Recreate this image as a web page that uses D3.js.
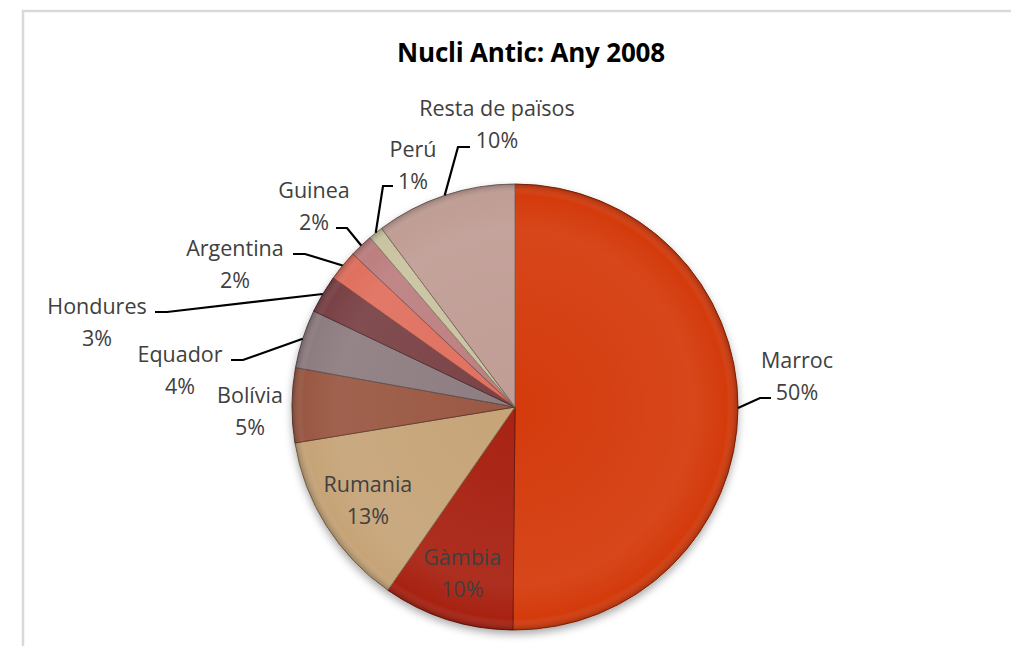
<!DOCTYPE html>
<html>
<head>
<meta charset="utf-8">
<script src="https://cdn.jsdelivr.net/npm/d3@7"></script>
<style>
  html, body { margin: 0; padding: 0; background: #fff; }
  svg { display: block; }
</style>
</head>
<body>
<svg id="chart" width="1011" height="646"></svg>
<script>
// ---- data ----
const title = "Nucli Antic: Any 2008";
const categories = ["Marroc", "Gàmbia", "Rumania", "Bolívia", "Equador", "Hondures", "Argentina", "Guinea", "Perú", "Resta de països"];
const shares = [50.1, 9.5, 12.75, 5.4, 4.25, 2.75, 2.2, 1.7, 1.05, 10.2];
const colors = ["#d43b0c", "#a82212", "#c6a478", "#9a5843", "#8e7d80", "#7a4246", "#e0705f", "#bd7f80", "#c9c3a0", "#c09d95"];

// ---- layout (label placement, not data) ----
const labelLayout = [
  { text: [797, 376], elbow: [760, 398], end: [771, 398] },
  { inside: true },
  { inside: true },
  { text: [250, 411] },
  { text: [180, 370], elbow: [243, 360], end: [231, 360] },
  { text: [97, 322], elbow: [167, 312], end: [155, 312] },
  { text: [235, 264], elbow: [305, 254], end: [293, 254] },
  { text: [314, 206], elbow: [347, 228], end: [336, 228] },
  { text: [413, 165], elbow: [383, 186], end: [393, 186] },
  { text: [497, 124], elbow: [458, 147], end: [470, 147] }
];

const svg = d3.select("#chart");
const cx = 515, cy = 407, R = 223;

// frame (extends beyond the picture on right and bottom)
svg.append("rect").attr("x", 23).attr("y", 11).attr("width", 1100).attr("height", 700)
  .attr("fill", "#fff").attr("stroke", "#d9d9d9").attr("stroke-width", 2.5);

// title
svg.append("text").attr("x", 531).attr("y", 62).attr("text-anchor", "middle")
  .attr("font-family", "'Open Sans', sans-serif").attr("font-weight", "bold")
  .attr("font-size", 26).attr("letter-spacing", -0.2).attr("fill", "#000").text(title);

const defs = svg.append("defs");
const f = defs.append("filter").attr("id", "shadow").attr("x", "-20%").attr("y", "-20%").attr("width", "140%").attr("height", "140%");
f.append("feDropShadow").attr("dx", 0).attr("dy", 4).attr("stdDeviation", 4).attr("flood-color", "#000").attr("flood-opacity", 0.35);

const rg = defs.append("radialGradient").attr("id", "shade").attr("gradientUnits", "userSpaceOnUse")
  .attr("cx", 0).attr("cy", 0).attr("r", R);
rg.append("stop").attr("offset", "0%").attr("stop-color", "#fff").attr("stop-opacity", 0.0);
rg.append("stop").attr("offset", "80%").attr("stop-color", "#fff").attr("stop-opacity", 0.06);
rg.append("stop").attr("offset", "95%").attr("stop-color", "#fff").attr("stop-opacity", 0.0);
rg.append("stop").attr("offset", "100%").attr("stop-color", "#000").attr("stop-opacity", 0.22);

const pie = d3.pie().sort(null).value(d => d)(shares);
const arc = d3.arc().innerRadius(0).outerRadius(R);
const g = svg.append("g").attr("transform", `translate(${cx},${cy})`);

g.append("circle").attr("r", R).attr("fill", "#fff").attr("filter", "url(#shadow)");

g.selectAll("path.slice").data(pie).join("path").attr("class", "slice")
  .attr("d", arc)
  .attr("fill", (d, i) => colors[i])
  .attr("stroke", (d, i) => d3.color(colors[i]).darker(1.2))
  .attr("stroke-width", 1)
  .attr("stroke-linejoin", "round");

g.selectAll("path.shade").data(pie).join("path").attr("class", "shade")
  .attr("d", arc)
  .attr("fill", "url(#shade)");

const total = d3.sum(shares);
const pct = v => Math.round(v / total * 100) + "%";
const font = "'Open Sans', sans-serif";
const fs = 21.5;
const lineH = 32;

const labelArc = d3.arc().innerRadius(R * 0.78).outerRadius(R * 0.78);

pie.forEach((d, i) => {
  const L = labelLayout[i];
  let tx, ty;
  if (L.inside) {
    const c = labelArc.centroid(d);
    tx = cx + c[0]; ty = cy + c[1];
  } else {
    tx = L.text[0]; ty = L.text[1];
    if (L.elbow) {
      const a = (d.startAngle + d.endAngle) / 2;
      const sx = cx + R * Math.sin(a), sy = cy - R * Math.cos(a);
      svg.append("polyline")
        .attr("points", [[sx, sy], L.elbow, L.end].map(p => p.join(",")).join(" "))
        .attr("fill", "none").attr("stroke", "#000").attr("stroke-width", 2.2);
    }
  }
  const t = svg.append("text").attr("text-anchor", "middle")
    .attr("font-family", font).attr("font-size", fs).attr("fill", "#404040");
  t.append("tspan").attr("x", tx).attr("y", ty - lineH / 2 + 8).text(categories[i]);
  t.append("tspan").attr("x", tx).attr("y", ty + lineH / 2 + 8).text(pct(shares[i]));
});
</script>
</body>
</html>
